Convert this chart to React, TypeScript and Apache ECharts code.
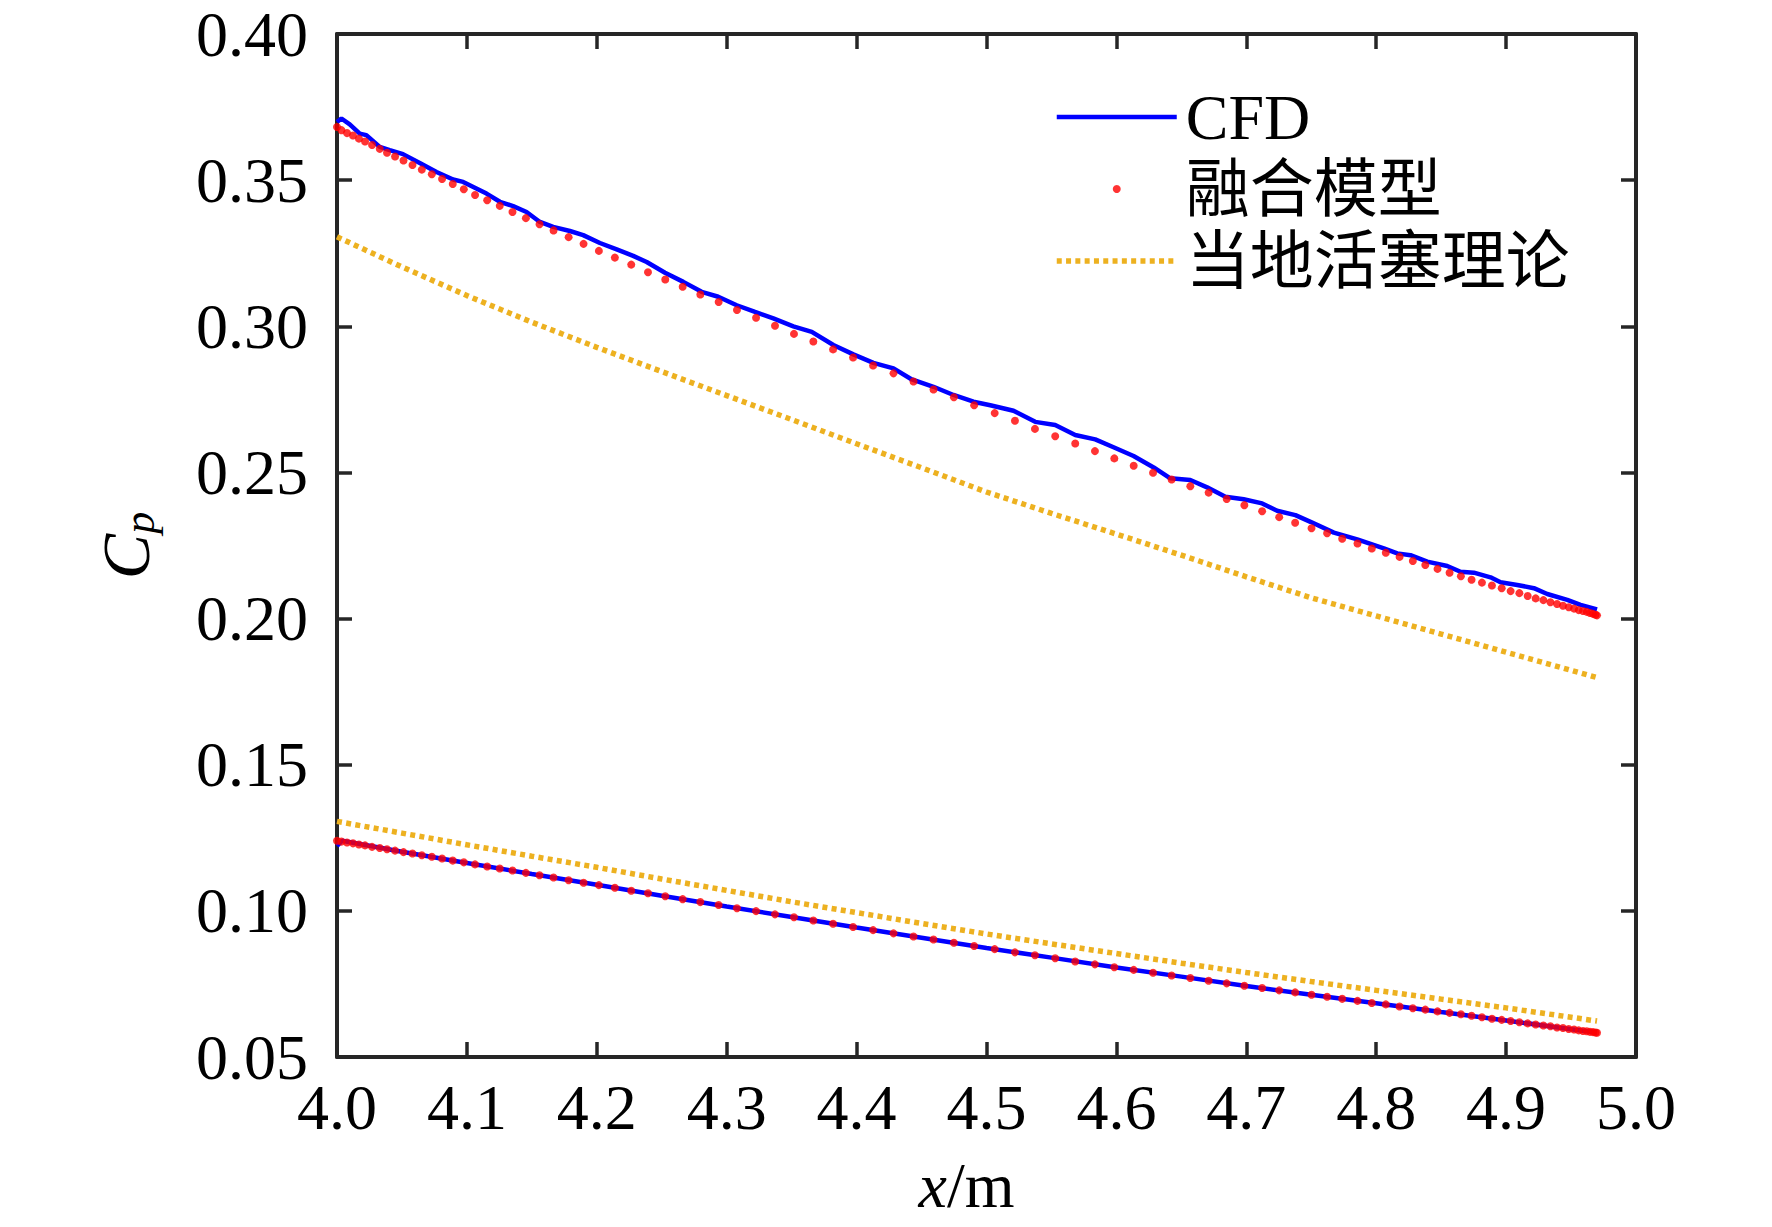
import React, { useEffect, useRef } from "react";
import * as echarts from "echarts";

const FONT = '"Liberation Serif", "Times New Roman", "Noto Sans CJK SC", serif';

// axis ranges / ticks
const X_MIN = 4.0;
const X_MAX = 5.0;
const X_STEP = 0.1;
const Y_MIN = 0.05;
const Y_MAX = 0.4;
const Y_STEP = 0.05;

const legendNames = ["CFD", "融合模型", "当地活塞理论"];

// fusion model (red dots) – x positions of the grid points
const fusionX = [
  4.0, 4.0034, 4.0077, 4.0123, 4.0169, 4.0216, 4.027, 4.0329, 4.0385, 4.0447,
  4.0512, 4.0581, 4.0653, 4.073, 4.0809, 4.0891, 4.0976, 4.1063, 4.1156, 4.1253,
  4.1351, 4.1454, 4.1559, 4.1667, 4.1783, 4.1898, 4.2016, 4.2139, 4.2265, 4.2394,
  4.2527, 4.2661, 4.2797, 4.2938, 4.3079, 4.3226, 4.3372, 4.3518, 4.3667, 4.3819,
  4.3973, 4.4127, 4.4284, 4.4438, 4.4592, 4.4749, 4.4905, 4.5063, 4.5219, 4.5373,
  4.5529, 4.5683, 4.5835, 4.5984, 4.6133, 4.6282, 4.6425, 4.6569, 4.671, 4.6849,
  4.6985, 4.7122, 4.7253, 4.7376, 4.7502, 4.7622, 4.7738, 4.7856, 4.7966, 4.8074,
  4.818, 4.8282, 4.8378, 4.8472, 4.8565, 4.8652, 4.8734, 4.8814, 4.8891, 4.8966,
  4.9035, 4.9102, 4.9166, 4.9228, 4.9287, 4.9341, 4.9392, 4.9438, 4.9482, 4.9523,
  4.9559, 4.9592, 4.9621, 4.9646, 4.9669, 4.9688, 4.97,
];

const fusionUpper = [
  0.3682, 0.3671, 0.3661, 0.3653, 0.3642, 0.3632, 0.362, 0.3607, 0.3594, 0.3581,
  0.3567, 0.3552, 0.3536, 0.352, 0.3504, 0.3487, 0.3469, 0.3449, 0.3431, 0.3412,
  0.3391, 0.337, 0.3349, 0.3328, 0.3305, 0.3282, 0.3258, 0.3235, 0.3211, 0.3185,
  0.316, 0.3135, 0.3109, 0.3083, 0.3056, 0.3029, 0.3002, 0.2974, 0.2948, 0.2921,
  0.2893, 0.2866, 0.2839, 0.2811, 0.2784, 0.2757, 0.273, 0.2703, 0.2677, 0.2649,
  0.2624, 0.2599, 0.2573, 0.2548, 0.2523, 0.2499, 0.2476, 0.2453, 0.2431, 0.2409,
  0.2388, 0.2367, 0.2347, 0.2328, 0.2309, 0.2292, 0.2273, 0.2257, 0.224, 0.2225,
  0.2211, 0.2197, 0.2183, 0.217, 0.2157, 0.2145, 0.2133, 0.2123, 0.2113, 0.2104,
  0.2094, 0.2087, 0.2077, 0.2069, 0.2063, 0.2056, 0.205, 0.2044, 0.2039, 0.2034,
  0.2029, 0.2026, 0.2023, 0.2019, 0.2016, 0.2013, 0.2011,
];

const fusionLower = [
  0.124, 0.1237, 0.1234, 0.1231, 0.1227, 0.1224, 0.1219, 0.1215, 0.1211, 0.1206,
  0.1201, 0.1196, 0.119, 0.1185, 0.1179, 0.1172, 0.1166, 0.1159, 0.1152, 0.1145,
  0.1138, 0.113, 0.1122, 0.1114, 0.1105, 0.1096, 0.1088, 0.1079, 0.1069, 0.106,
  0.105, 0.104, 0.103, 0.102, 0.1009, 0.0999, 0.0988, 0.0978, 0.0967, 0.0956,
  0.0945, 0.0934, 0.0923, 0.0912, 0.0902, 0.0891, 0.088, 0.0869, 0.0858, 0.0848,
  0.0838, 0.0827, 0.0817, 0.0807, 0.0798, 0.0788, 0.0779, 0.077, 0.0761, 0.0752,
  0.0744, 0.0736, 0.0728, 0.0721, 0.0713, 0.0706, 0.0699, 0.0692, 0.0685, 0.068,
  0.0673, 0.0667, 0.0662, 0.0656, 0.0651, 0.0646, 0.0641, 0.0636, 0.0631, 0.0627,
  0.0623, 0.0619, 0.0615, 0.0611, 0.0608, 0.0605, 0.0601, 0.0599, 0.0596, 0.0594,
  0.0591, 0.0589, 0.0588, 0.0586, 0.0585, 0.0584, 0.0583,
];

// CFD (blue) upper branch
const cfdUpperX = [
  4.0, 4.0034, 4.0098, 4.0175, 4.0226, 4.0329, 4.0406, 4.0508, 4.0637, 4.0766,
  4.0894, 4.0971, 4.1151, 4.1254, 4.1356, 4.1459, 4.1562, 4.1664, 4.1793, 4.1895,
  4.2024, 4.2153, 4.228, 4.2384, 4.2525, 4.2666, 4.2807, 4.2935, 4.3077, 4.3218,
  4.3359, 4.3513, 4.3655, 4.3821, 4.3975, 4.4129, 4.4284, 4.4425, 4.4592, 4.4746,
  4.49, 4.5029, 4.5208, 4.5375, 4.5529, 4.5683, 4.5837, 4.5978, 4.6132, 4.6287,
  4.6415, 4.6569, 4.6698, 4.6839, 4.698, 4.7122, 4.7237, 4.7378, 4.7494, 4.7674,
  4.7854, 4.8059, 4.8162, 4.8264, 4.8393, 4.8547, 4.8649, 4.8752, 4.888, 4.8957,
  4.9086, 4.9214, 4.9317, 4.9471, 4.9573, 4.97,
];
const cfdUpperY = [
  0.3699, 0.3711, 0.3691, 0.3659, 0.3654, 0.3614, 0.3603, 0.3589, 0.3559, 0.3528,
  0.3502, 0.3494, 0.3454, 0.3426, 0.3411, 0.3391, 0.3357, 0.334, 0.3326, 0.3312,
  0.3285, 0.3263, 0.3241, 0.322, 0.3183, 0.3152, 0.3118, 0.3101, 0.3072, 0.3049,
  0.3027, 0.3, 0.2981, 0.2936, 0.2904, 0.2875, 0.2856, 0.2818, 0.2793, 0.2765,
  0.2742, 0.273, 0.2711, 0.2673, 0.2662, 0.2628, 0.2613, 0.2586, 0.2556, 0.2517,
  0.248, 0.2474, 0.2449, 0.2417, 0.2408, 0.2394, 0.2369, 0.2354, 0.2331, 0.2294,
  0.2271, 0.224, 0.2223, 0.2217, 0.2195, 0.218, 0.216, 0.2157, 0.2141, 0.2124,
  0.2115, 0.2104, 0.2084, 0.2064, 0.2047, 0.2031,
];

// CFD (blue) lower branch
const cfdLowerX = [
  4.0, 4.004, 4.05, 4.1, 4.15, 4.2, 4.25, 4.3, 4.35, 4.4, 4.45, 4.5, 4.55, 4.6,
  4.65, 4.7, 4.75, 4.8, 4.85, 4.9, 4.95, 4.97,
];
const cfdLowerY = [
  0.1222, 0.124, 0.1202, 0.1164, 0.1126, 0.1089, 0.1052, 0.1015, 0.0979, 0.0943,
  0.0908, 0.0873, 0.084, 0.0806, 0.0775, 0.0743, 0.0713, 0.0684, 0.0654, 0.0625,
  0.0595, 0.0584,
];

// local piston theory (orange dotted)
const pistonX = [
  4.0, 4.05, 4.1, 4.15, 4.2, 4.25, 4.3, 4.35, 4.4, 4.45, 4.5, 4.55, 4.6, 4.65,
  4.7, 4.75, 4.8, 4.85, 4.9, 4.95, 4.97,
];
const pistonUpper = [
  0.3306, 0.3203, 0.3105, 0.3014, 0.2928, 0.2845, 0.2763, 0.2681, 0.2598, 0.2516,
  0.2433, 0.236, 0.2289, 0.2217, 0.2143, 0.2071, 0.2009, 0.1947, 0.1885, 0.1823,
  0.1798,
];
const pistonLower = [
  0.1306, 0.1266, 0.1226, 0.1187, 0.1149, 0.1109, 0.107, 0.1031, 0.0994, 0.0957,
  0.0921, 0.0887, 0.0854, 0.0821, 0.0789, 0.0758, 0.0728, 0.0698, 0.0668, 0.0636,
  0.0623,
];

const zip = (xs: number[], ys: number[]) => xs.map((x, i) => [x, ys[i]]);

const AXIS_COLOR = "#262626";
const BLUE = "#0000FF";
const RED = "#FF0000";
const ORANGE = "#EDB120";

function buildOption() {
  const axisLine = { show: true, onZero: false, lineStyle: { color: AXIS_COLOR, width: 4 } };
  const axisTick = { show: true, inside: true, length: 15, lineStyle: { color: AXIS_COLOR, width: 3.5 } };
  const cfdStyle = { color: BLUE, width: 4.5 };
  const pistonStyle = { color: ORANGE, width: 5.5, type: [5, 4.3], cap: "butt" };
  const dotSize = 8;
  return {
    animation: false,
    backgroundColor: "#ffffff",
    grid: { left: 337, right: 136, top: 34, bottom: 170, containLabel: false },
    legend: {
      orient: "vertical",
      left: 1054,
      top: 82,
      padding: 0,
      itemWidth: 120,
      itemHeight: 8,
      itemGap: 2,
      selectedMode: false,
      textStyle: {
        fontFamily: FONT,
        fontSize: 64,
        lineHeight: 70,
        color: "#000",
        padding: [0, 0, 0, 4],
      },
      data: [
        {
          name: legendNames[0],
          itemStyle: { opacity: 0 },
          lineStyle: { color: BLUE, width: 4.5, opacity: 1 },
        },
        {
          name: legendNames[1],
          icon: "circle",
          itemStyle: { color: RED },
        },
        {
          name: legendNames[2],
          itemStyle: { opacity: 0 },
          lineStyle: { color: ORANGE, width: 5.5, type: [5, 4.3], cap: "butt", opacity: 1 },
        },
      ],
    },
    xAxis: [
      {
        type: "value",
        min: X_MIN,
        max: X_MAX,
        interval: X_STEP,
        position: "bottom",
        axisLine,
        axisTick,
        splitLine: { show: false },
        axisLabel: {
          fontFamily: FONT,
          fontSize: 64,
          color: "#000",
          margin: 18,
          formatter: (v: number) => v.toFixed(1),
        },
        name: "{i|x}/m",
        nameLocation: "middle",
        nameGap: 96,
        nameTextStyle: {
          fontFamily: FONT,
          fontSize: 64,
          lineHeight: 64,
          color: "#000",
          padding: [0, 40, 0, 0],
          rich: {
            i: { fontFamily: FONT, fontSize: 64, lineHeight: 64, fontStyle: "italic", color: "#000" },
          },
        },
      },
      {
        type: "value",
        min: X_MIN,
        max: X_MAX,
        interval: X_STEP,
        position: "top",
        axisLine,
        axisTick,
        axisLabel: { show: false },
        splitLine: { show: false },
      },
    ],
    yAxis: [
      {
        type: "value",
        min: Y_MIN,
        max: Y_MAX,
        interval: Y_STEP,
        position: "left",
        axisLine,
        axisTick,
        splitLine: { show: false },
        axisLabel: {
          fontFamily: FONT,
          fontSize: 64,
          color: "#000",
          margin: 29,
          formatter: (v: number) => v.toFixed(2),
        },
        name: "{c|C}{p|p}",
        nameLocation: "middle",
        nameGap: 176,
        nameTextStyle: {
          fontFamily: FONT,
          color: "#000",
          rich: {
            c: { fontFamily: FONT, fontSize: 68, lineHeight: 70, fontStyle: "italic", color: "#000" },
            p: {
              fontFamily: FONT,
              fontSize: 44,
              lineHeight: 26,
              fontStyle: "italic",
              verticalAlign: "bottom",
              color: "#000",
            },
          },
        },
      },
      {
        type: "value",
        min: Y_MIN,
        max: Y_MAX,
        interval: Y_STEP,
        position: "right",
        axisLine,
        axisTick,
        axisLabel: { show: false },
        splitLine: { show: false },
      },
    ],
    series: [
      {
        name: "CFD",
        type: "line",
        data: zip(cfdUpperX, cfdUpperY),
        showSymbol: false,
        symbol: "none",
        lineStyle: cfdStyle,
        itemStyle: { color: BLUE },
        z: 2,
      },
      {
        name: "CFD",
        type: "line",
        data: zip(cfdLowerX, cfdLowerY),
        showSymbol: false,
        symbol: "none",
        lineStyle: cfdStyle,
        itemStyle: { color: BLUE },
        z: 2,
      },
      {
        name: "融合模型",
        type: "scatter",
        data: zip(fusionX, fusionUpper),
        symbol: "circle",
        symbolSize: dotSize,
        itemStyle: { color: RED },
        z: 3,
      },
      {
        name: "融合模型",
        type: "scatter",
        data: zip(fusionX, fusionLower),
        symbol: "circle",
        symbolSize: dotSize,
        itemStyle: { color: RED },
        z: 3,
      },
      {
        name: "当地活塞理论",
        type: "line",
        data: zip(pistonX, pistonUpper),
        showSymbol: false,
        symbol: "none",
        lineStyle: pistonStyle,
        itemStyle: { color: ORANGE },
        z: 1,
      },
      {
        name: "当地活塞理论",
        type: "line",
        data: zip(pistonX, pistonLower),
        showSymbol: false,
        symbol: "none",
        lineStyle: pistonStyle,
        itemStyle: { color: ORANGE },
        z: 1,
      },
    ],
  };
}

export default function App() {
  const ref = useRef<HTMLDivElement>(null);
  useEffect(() => {
    document.body.style.margin = "0";
    const chart = echarts.init(ref.current as HTMLDivElement, null, { renderer: "svg" });
    chart.setOption(buildOption() as any);
    return () => chart.dispose();
  }, []);
  return <div ref={ref} style={{ width: 1772, height: 1227, background: "#fff" }} />;
}
